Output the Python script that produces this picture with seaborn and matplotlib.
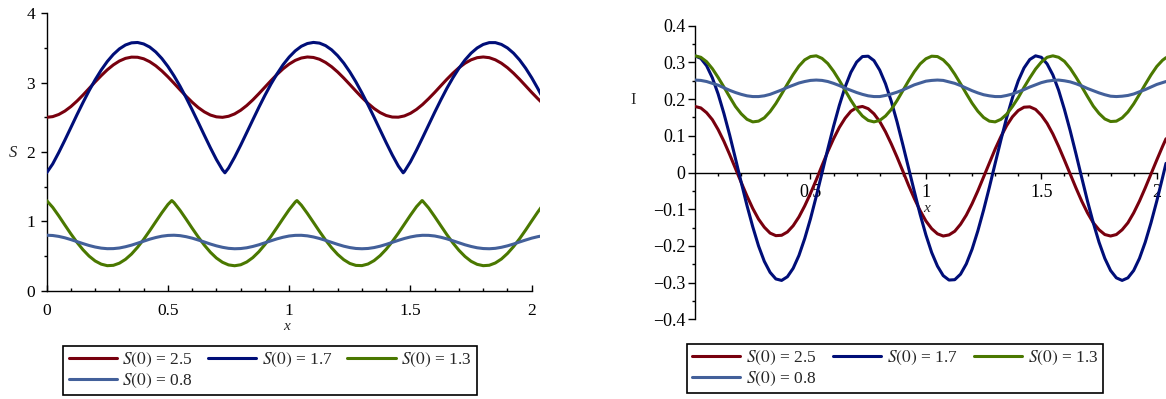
import numpy as np
import pandas as pd
import matplotlib
matplotlib.use("Agg")
import matplotlib.pyplot as plt
from matplotlib.lines import Line2D
from matplotlib.ticker import FixedLocator, MultipleLocator, FuncFormatter
import seaborn as sns

sns.set_style("white")
plt.rcParams['font.family'] = ['Liberation Serif', 'DejaVu Serif']
plt.rcParams['mathtext.fontset'] = 'stix'

# sample positions along x (every 0.025, plus the right edge)
x_grid = [round(0.025 * k, 3) for k in range(82)] + [2.04]

cases = ["2.5", "1.7", "1.3", "0.8"]
colors = ["#78000E", "#000E78", "#4A7800", "#43609A"]

# S(x)
s_25 = [2.500, 2.510, 2.541, 2.590, 2.655, 2.734, 2.822, 2.916, 3.011, 3.101,
        3.185, 3.256, 3.312, 3.350, 3.368, 3.366, 3.344, 3.302, 3.243, 3.169,
        3.084, 2.992, 2.897, 2.804, 2.718, 2.641, 2.579, 2.533, 2.507, 2.500,
        2.515, 2.549, 2.602, 2.670, 2.751, 2.841, 2.935, 3.029, 3.119, 3.200,
        3.268, 3.321, 3.355, 3.370, 3.363, 3.337, 3.291, 3.229, 3.153, 3.066,
        2.973, 2.878, 2.786, 2.701, 2.627, 2.568, 2.526, 2.504, 2.502, 2.520,
        2.558, 2.614, 2.685, 2.769, 2.859, 2.954, 3.048, 3.136, 3.215, 3.280,
        3.329, 3.360, 3.370, 3.360, 3.329, 3.280, 3.215, 3.136, 3.048, 2.954,
        2.859, 2.769, 2.718]
s_17 = [1.700, 1.828, 1.993, 2.170, 2.353, 2.537, 2.714, 2.884, 3.041, 3.182,
        3.305, 3.407, 3.487, 3.543, 3.574, 3.579, 3.558, 3.513, 3.442, 3.348,
        3.233, 3.099, 2.949, 2.784, 2.608, 2.427, 2.243, 2.062, 1.891, 1.743,
        1.769, 1.925, 2.098, 2.280, 2.463, 2.644, 2.817, 2.980, 3.127, 3.259,
        3.369, 3.458, 3.524, 3.564, 3.580, 3.570, 3.534, 3.473, 3.388, 3.282,
        3.155, 3.011, 2.851, 2.680, 2.501, 2.317, 2.134, 1.958, 1.798, 1.719,
        1.859, 2.027, 2.207, 2.390, 2.573, 2.749, 2.917, 3.070, 3.208, 3.327,
        3.425, 3.500, 3.551, 3.577, 3.577, 3.551, 3.500, 3.425, 3.327, 3.208,
        3.070, 2.916, 2.817]
s_13 = [1.300, 1.202, 1.079, 0.948, 0.819, 0.698, 0.590, 0.499, 0.429, 0.383,
        0.361, 0.366, 0.397, 0.452, 0.529, 0.627, 0.740, 0.865, 0.995, 1.124,
        1.243, 1.271, 1.159, 1.032, 0.901, 0.775, 0.658, 0.555, 0.471, 0.410,
        0.372, 0.360, 0.374, 0.414, 0.477, 0.562, 0.666, 0.784, 0.912, 1.042,
        1.169, 1.279, 1.234, 1.114, 0.985, 0.855, 0.731, 0.619, 0.523, 0.447,
        0.393, 0.365, 0.362, 0.385, 0.434, 0.506, 0.598, 0.708, 0.829, 0.959,
        1.089, 1.212, 1.295, 1.193, 1.068, 0.938, 0.809, 0.689, 0.582, 0.493,
        0.424, 0.380, 0.361, 0.367, 0.400, 0.457, 0.537, 0.636, 0.750, 0.875,
        1.006, 1.135, 1.207]
s_08 = [0.800, 0.796, 0.783, 0.763, 0.737, 0.708, 0.679, 0.652, 0.630, 0.614,
        0.606, 0.607, 0.616, 0.634, 0.657, 0.685, 0.714, 0.743, 0.767, 0.786,
        0.797, 0.800, 0.794, 0.779, 0.758, 0.731, 0.703, 0.673, 0.647, 0.626,
        0.611, 0.605, 0.608, 0.619, 0.638, 0.662, 0.691, 0.720, 0.748, 0.771,
        0.789, 0.798, 0.799, 0.791, 0.775, 0.753, 0.726, 0.697, 0.668, 0.642,
        0.622, 0.609, 0.605, 0.609, 0.622, 0.642, 0.668, 0.697, 0.726, 0.753,
        0.775, 0.791, 0.799, 0.798, 0.789, 0.771, 0.748, 0.720, 0.691, 0.662,
        0.638, 0.619, 0.608, 0.605, 0.611, 0.626, 0.647, 0.673, 0.703, 0.731,
        0.758, 0.779, 0.789]
# sharp turning points that fall between grid samples
s_17_tips_x = [0.735, 1.47]
s_17_tips = [1.70, 1.70]
s_13_tips_x = [0.516, 1.032, 1.548]
s_13_tips = [1.30, 1.30, 1.30]

# I(x)
i_25 = [0.180, 0.176, 0.163, 0.144, 0.117, 0.085, 0.049, 0.011, -0.027, -0.064,
        -0.098, -0.127, -0.149, -0.165, -0.172, -0.171, -0.162, -0.145, -0.121, -0.091,
        -0.057, -0.020, 0.019, 0.057, 0.092, 0.123, 0.148, 0.167, 0.177, 0.180,
        0.174, 0.160, 0.139, 0.111, 0.078, 0.042, 0.004, -0.035, -0.071, -0.104,
        -0.132, -0.153, -0.167, -0.173, -0.170, -0.160, -0.141, -0.116, -0.085, -0.050,
        -0.012, 0.026, 0.064, 0.098, 0.128, 0.152, 0.169, 0.178, 0.179, 0.172,
        0.156, 0.134, 0.105, 0.071, 0.034, -0.004, -0.042, -0.078, -0.110, -0.137,
        -0.156, -0.169, -0.173, -0.169, -0.156, -0.137, -0.110, -0.078, -0.042, -0.004,
        0.034, 0.071, 0.092]
i_17 = [0.318, 0.311, 0.291, 0.258, 0.214, 0.161, 0.102, 0.038, -0.027, -0.090,
        -0.148, -0.200, -0.242, -0.272, -0.290, -0.294, -0.284, -0.261, -0.226, -0.180,
        -0.126, -0.065, -0.001, 0.064, 0.126, 0.183, 0.233, 0.273, 0.301, 0.316,
        0.317, 0.305, 0.279, 0.242, 0.194, 0.138, 0.076, 0.012, -0.052, -0.114,
        -0.170, -0.218, -0.255, -0.281, -0.293, -0.292, -0.277, -0.249, -0.209, -0.159,
        -0.102, -0.040, 0.025, 0.089, 0.150, 0.204, 0.250, 0.285, 0.308, 0.318,
        0.314, 0.296, 0.266, 0.224, 0.172, 0.114, 0.051, -0.014, -0.078, -0.137,
        -0.190, -0.234, -0.267, -0.287, -0.294, -0.287, -0.267, -0.234, -0.190, -0.137,
        -0.078, -0.014, 0.025]
i_13 = [0.318, 0.314, 0.302, 0.283, 0.259, 0.233, 0.206, 0.180, 0.160, 0.145,
        0.138, 0.140, 0.149, 0.166, 0.188, 0.214, 0.241, 0.267, 0.290, 0.307,
        0.316, 0.318, 0.311, 0.297, 0.276, 0.251, 0.224, 0.197, 0.173, 0.154,
        0.142, 0.138, 0.142, 0.154, 0.172, 0.196, 0.223, 0.250, 0.275, 0.296,
        0.310, 0.317, 0.316, 0.307, 0.291, 0.268, 0.242, 0.215, 0.189, 0.167,
        0.150, 0.140, 0.138, 0.145, 0.159, 0.180, 0.204, 0.232, 0.258, 0.282,
        0.301, 0.314, 0.318, 0.314, 0.303, 0.284, 0.260, 0.234, 0.207, 0.181,
        0.161, 0.146, 0.139, 0.140, 0.149, 0.165, 0.187, 0.213, 0.240, 0.266,
        0.289, 0.306, 0.313]
i_08 = [0.252, 0.251, 0.248, 0.243, 0.238, 0.231, 0.224, 0.218, 0.213, 0.209,
        0.207, 0.207, 0.209, 0.213, 0.219, 0.225, 0.232, 0.238, 0.244, 0.248,
        0.251, 0.252, 0.251, 0.248, 0.243, 0.237, 0.230, 0.224, 0.218, 0.213,
        0.209, 0.207, 0.207, 0.210, 0.214, 0.219, 0.225, 0.232, 0.239, 0.244,
        0.249, 0.251, 0.252, 0.251, 0.247, 0.243, 0.237, 0.230, 0.223, 0.217,
        0.212, 0.209, 0.207, 0.207, 0.210, 0.214, 0.220, 0.226, 0.233, 0.239,
        0.245, 0.249, 0.251, 0.252, 0.250, 0.247, 0.242, 0.236, 0.229, 0.223,
        0.217, 0.212, 0.208, 0.207, 0.208, 0.210, 0.214, 0.220, 0.226, 0.233,
        0.240, 0.245, 0.248]


def to_long(series, extra=None):
    frames = []
    for case, vals in zip(cases, series):
        xs, ys = list(x_grid), list(vals)
        if extra and case in extra:
            xs += extra[case][0]
            ys += extra[case][1]
        frames.append(pd.DataFrame({"x": xs, "y": ys, "case": case}))
    return pd.concat(frames, ignore_index=True)


df_s = to_long([s_25, s_17, s_13, s_08],
               {"1.7": (s_17_tips_x, s_17_tips), "1.3": (s_13_tips_x, s_13_tips)})
df_i = to_long([i_25, i_17, i_13, i_08])

palette = dict(zip(cases, colors))
LW = 2.2

fig = plt.figure(figsize=(11.66, 3.99), dpi=100)
ax1 = fig.add_axes([0.0400, 0.2714, 0.4231, 0.6953])
ax2 = fig.add_axes([0.5961, 0.1997, 0.4035, 0.7358])

for ax, df in ((ax1, df_s), (ax2, df_i)):
    sns.lineplot(data=df, x="x", y="y", hue="case", hue_order=cases, palette=palette,
                 linewidth=LW, legend=False, estimator=None, ax=ax)
    ax.set(xlabel="", ylabel="")
    ax.set_axisbelow(True)
    for side in ("top", "right"):
        ax.spines[side].set_visible(False)
    for side in ("left", "bottom"):
        ax.spines[side].set_linewidth(1.0)
        ax.spines[side].set_color("black")
        ax.spines[side].set_zorder(1)
    ax.tick_params(which="both", bottom=True, left=True, top=False, right=False,
                   color="black", labelcolor="black")


def fmt(v, pos):
    v = round(v, 3) + 0.0
    return f"{v:g}".replace("-", "\u2212")


# left panel: S
ax1.set_xlim(0, 2.034)
ax1.set_ylim(0, 4)
ax1.spines["bottom"].set_bounds(0, 2)
ax1.xaxis.set_major_locator(FixedLocator([0, 0.5, 1, 1.5, 2]))
ax1.xaxis.set_minor_locator(FixedLocator(np.round(np.arange(0.1, 2.0, 0.1), 2)))
ax1.yaxis.set_major_locator(MultipleLocator(1))
ax1.yaxis.set_minor_locator(MultipleLocator(0.5))
ax1.xaxis.set_major_formatter(FuncFormatter(fmt))
ax1.yaxis.set_major_formatter(FuncFormatter(fmt))
ax1.tick_params(axis="x", which="major", direction="in", length=4, width=1, pad=8.5, labelsize=12.5)
ax1.tick_params(axis="x", which="minor", direction="in", length=2.5, width=1)
ax1.tick_params(axis="y", which="major", direction="out", length=4.3, width=1, pad=4, labelsize=12.5)
ax1.tick_params(axis="y", which="minor", direction="out", length=2.5, width=1)
ax1.text(0.487, -0.140, "x", transform=ax1.transAxes, ha="center", va="baseline",
         style="italic", fontsize=11)
ax1.text(-0.0673, 0.482, "S", transform=ax1.transAxes, ha="center", va="baseline",
         style="italic", fontsize=12)

# right panel: I
ax2.set_xlim(0, 2.038)
ax2.set_ylim(-0.4, 0.4)
ax2.spines["bottom"].set_position(("data", 0))
ax2.spines["bottom"].set_bounds(0, 2)
ax2.spines["left"].set_bounds(-0.4, 0.4)
ax2.xaxis.set_major_locator(FixedLocator([0.5, 1, 1.5, 2]))
ax2.xaxis.set_minor_locator(FixedLocator(np.round(np.arange(0.1, 2.0, 0.1), 2)))
ax2.yaxis.set_major_locator(MultipleLocator(0.1))
ax2.yaxis.set_minor_locator(MultipleLocator(0.05))
ax2.xaxis.set_major_formatter(FuncFormatter(fmt))
ax2.yaxis.set_major_formatter(FuncFormatter(fmt))
ax2.tick_params(axis="x", which="major", direction="out", length=4, width=1, pad=4.5, labelsize=13)
ax2.tick_params(axis="x", which="minor", direction="out", length=2.5, width=1)
ax2.tick_params(axis="y", which="major", direction="out", length=5, width=1, pad=1.7, labelsize=13)
ax2.tick_params(axis="y", which="minor", direction="out", length=2.5, width=1)
ax2.text(0.493, 0.364, "x", transform=ax2.transAxes, ha="center", va="baseline",
         style="italic", fontsize=11)
ax2.text(-0.132, 0.732, "I", transform=ax2.transAxes, ha="center", va="baseline",
         fontsize=12)

# legends under each panel, row-wise order like the original
handles = [Line2D([], [], color=c, lw=LW) for c in colors]
labels = [rf"$S(0)$ = {c}" for c in cases]
order = [0, 3, 1, 2]
for box in ((0.0543, 0.0083, 0.3545, 0.1253), (0.5889, 0.0158, 0.3573, 0.1220)):
    leg = fig.legend([handles[i] for i in order], [labels[i] for i in order],
                     ncol=3, loc="upper left", bbox_to_anchor=box, mode="expand",
                     frameon=True, fancybox=False, edgecolor="black", framealpha=1,
                     fontsize=12.5, handlelength=2.8, handletextpad=0.3,
                     columnspacing=0.4, labelspacing=0.15, borderpad=0.3,
                     borderaxespad=0)
    leg.get_frame().set_linewidth(1.2)

fig.savefig("out.png", dpi=100)
